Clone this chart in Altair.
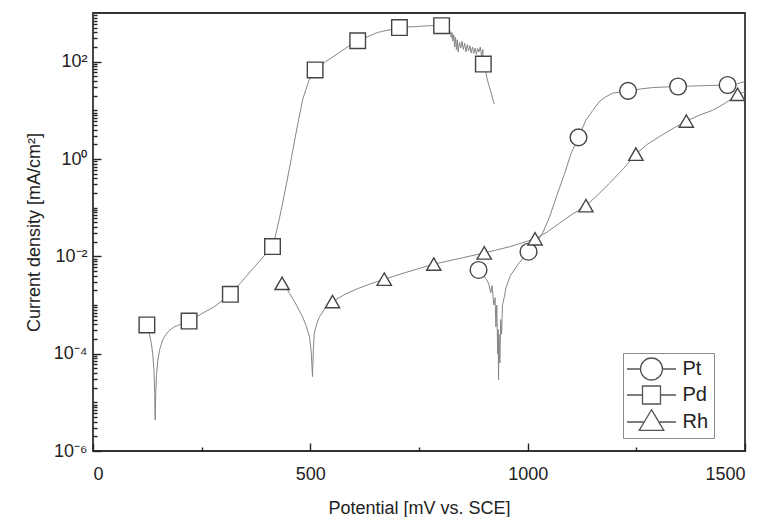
import altair as alt
import pandas as pd

# ---------------- data (potential in mV, log10 of current density in mA/cm^2) -------------
series_order = ["Pt", "Pd", "Rh"]

pd_mv = [124, 128, 133, 137, 140, 142, 143, 144, 146, 149,
         153, 160, 168, 176, 185, 195, 208, 221, 250, 280,
         316, 340, 367, 385, 400, 413, 421, 433, 444, 456,
         467, 482, 497, 511, 535, 559, 585, 609, 655, 705,
         740, 775, 802, 805, 812, 818, 822, 824, 826, 828,
         830, 832, 834, 836, 838, 840, 843, 846, 849, 852,
         855, 858, 861, 864, 867, 870, 873, 876, 879, 882,
         885, 888, 891, 894, 897, 898, 902, 908, 914, 923]
pd_log = [-3.41, -3.52, -3.72, -3.97, -4.3, -4.8, -5.36, -4.9, -4.45, -4.15,
          -3.93, -3.72, -3.6, -3.52, -3.46, -3.42, -3.37, -3.33, -3.18, -3.03,
          -2.78, -2.54, -2.26, -2.08, -1.93, -1.80, -1.53, -1.05, -0.56, 0.0,
          0.53, 1.21, 1.62, 1.83, 2.0, 2.14, 2.3, 2.43, 2.6, 2.70,
          2.72, 2.74, 2.74, 2.73, 2.70, 2.66, 2.62, 2.5, 2.6, 2.42,
          2.55, 2.3, 2.5, 2.25, 2.45, 2.2, 2.4, 2.28, 2.42, 2.25,
          2.38, 2.2, 2.35, 2.22, 2.33, 2.18, 2.3, 2.17, 2.28, 2.15,
          2.27, 2.2, 2.3, 2.12, 2.25, 1.95, 1.85, 1.6, 1.42, 1.13]

pt_mv = [887, 895, 903, 910, 915, 918, 922, 925, 927, 929,
         931, 932, 933, 934, 936, 938, 940, 942, 946, 950,
         960, 975, 990, 1002, 1018, 1034, 1050, 1069, 1085, 1100,
         1117, 1134, 1150, 1165, 1180, 1195, 1215, 1231, 1260, 1290,
         1320, 1346, 1380, 1420, 1460, 1480, 1499]
pt_log = [-2.28, -2.35, -2.45, -2.55, -2.75, -2.6, -3.0, -2.85, -3.45, -3.0,
          -4.0, -3.5, -4.54, -3.6, -4.19, -3.3, -3.6, -3.0, -2.85, -2.65,
          -2.4, -2.2, -2.03, -1.905, -1.75, -1.53, -1.2, -0.70, -0.3, 0.12,
          0.445, 0.80, 1.0, 1.18, 1.28, 1.35, 1.38, 1.40, 1.44, 1.47,
          1.48, 1.49, 1.5, 1.51, 1.52, 1.54, 1.59]

rh_mv = [435, 445, 452, 465, 482, 490, 498, 502, 505, 507,
         509, 515, 521, 536, 551, 580, 610, 640, 670, 720,
         784, 840, 900, 960, 1017, 1045, 1073, 1100, 1134, 1160,
         1188, 1220, 1249, 1275, 1303, 1335, 1365, 1395, 1425, 1455,
         1483, 1500]
rh_log = [-2.555, -2.65, -2.76, -2.95, -3.24, -3.42, -3.65, -3.95, -4.47, -3.9,
          -3.58, -3.38, -3.24, -3.04, -2.93, -2.78, -2.66, -2.56, -2.47, -2.33,
          -2.16, -2.05, -1.93, -1.8, -1.64, -1.5, -1.32, -1.15, -0.96, -0.75,
          -0.50, -0.2, 0.10, 0.3, 0.46, 0.63, 0.78, 0.9, 1.0, 1.15,
          1.33, 1.38]

# marker positions
pt_mk_mv = [887, 1002, 1117, 1231, 1346, 1460]
pt_mk_log = [-2.28, -1.905, 0.445, 1.40, 1.49, 1.52]
pd_mk_mv = [124, 221, 316, 413, 511, 609, 705, 802, 898]
pd_mk_log = [-3.41, -3.33, -2.78, -1.80, 1.83, 2.43, 2.70, 2.74, 1.95]
rh_mk_mv = [435, 551, 670, 784, 900, 1017, 1134, 1249, 1365, 1483]
rh_mk_log = [-2.555, -2.93, -2.47, -2.16, -1.93, -1.64, -0.96, 0.10, 0.78, 1.33]

x_major = [0, 500, 1000, 1500]
x_minor = [250, 750, 1250]
y_major = [1e-6, 1e-4, 1e-2, 1e0, 1e2]
y_major_labels = ["10⁻⁶", "10⁻⁴", "10⁻²", "10⁰", "10²"]
y_minor = [m * 10.0 ** e for e in range(-6, 3) for m in range(2, 10)] + [1e-5, 1e-3, 1e-1, 1e1]

# ---------------- tables ----------------
def frame(name, xs, ls):
    return pd.DataFrame({"series": name, "mV": xs, "j": [10.0 ** v for v in ls],
                         "i": list(range(len(xs)))})

line_df = pd.concat([frame("Pt", pt_mv, pt_log), frame("Pd", pd_mv, pd_log),
                     frame("Rh", rh_mv, rh_log)], ignore_index=True)
mk_df = pd.concat([frame("Pt", pt_mk_mv, pt_mk_log), frame("Pd", pd_mk_mv, pd_mk_log),
                   frame("Rh", rh_mk_mv, rh_mk_log)], ignore_index=True)

W, H = 652, 438
FONT = "Liberation Sans"
xscale = alt.Scale(domain=[0, 1500], nice=False)
yscale = alt.Scale(type="log", domain=[1e-6, 1e3], nice=False)

label_expr = " : ".join(
    f"datum.value < {v * 1.5:g} ? '{t}'" for v, t in zip(y_major, y_major_labels)) + " : ''"

lines = alt.Chart(line_df).mark_line(color="#858585", strokeWidth=1).encode(
    x=alt.X("mV:Q", scale=xscale,
            axis=alt.Axis(orient="bottom", title="Potential [mV vs. SCE]", values=x_major,
                          format="d", ticks=False, domain=False, grid=False, labelPadding=14,
                          titlePadding=16)),
    y=alt.Y("j:Q", scale=yscale,
            axis=alt.Axis(orient="left", title="Current density [mA/cm²]", values=y_major,
                          labelExpr=label_expr, ticks=False, domain=False, grid=False,
                          labelPadding=6, titlePadding=10)),
    detail="series:N",
    order="i:Q",
)

markers = alt.Chart(mk_df).mark_point(filled=True, fill="white", stroke="#444",
                                      strokeWidth=1.4, opacity=1).encode(
    x=alt.X("mV:Q", scale=xscale,
            axis=alt.Axis(orient="top", offset=-H, values=x_major, tickSize=8, labels=False,
                          domain=False, grid=False, title=None)),
    y=alt.Y("j:Q", scale=yscale,
            axis=alt.Axis(orient="right", offset=-W, values=y_major, tickSize=8, labels=False,
                          domain=False, grid=False, title=None)),
    shape=alt.Shape("series:N", scale=alt.Scale(domain=series_order,
                                                range=["circle", "square", "triangle-up"]),
                    legend=None),
    size=alt.Size("series:N", scale=alt.Scale(domain=series_order, range=[280, 205, 400]),
                  legend=None),
)

legend_paths = [
    "M-2.45,0L-1.1,0M1.1,0L2.45,0M-1.1,0A1.1,1.1,0,1,1,1.1,0A1.1,1.1,0,1,1,-1.1,0Z",
    "M-2.45,0L-0.9,0M0.9,0L2.45,0M-0.9,-0.9L0.9,-0.9L0.9,0.9L-0.9,0.9Z",
    "M-2.45,0L-0.72,0M0.72,0L2.45,0M0,-1.23L1.23,0.84L-1.23,0.84Z",
]

legend_host = alt.Chart(mk_df).mark_point(filled=False, color="#555", strokeWidth=1.3,
                                          opacity=0).encode(
    x=alt.X("mV:Q", scale=xscale,
            axis=alt.Axis(orient="top", offset=-H, values=x_minor, tickSize=4, labels=False,
                          domain=False, grid=False, title=None)),
    y=alt.Y("j:Q", scale=yscale,
            axis=alt.Axis(orient="right", offset=-W, values=y_minor, tickSize=4, labels=False,
                          domain=False, grid=False, title=None)),
    shape=alt.Shape("series:N", scale=alt.Scale(domain=series_order, range=legend_paths),
                    legend=alt.Legend(title=None, orient="none", legendX=530, legendY=340,
                                      strokeColor="#8a8a8a", fillColor="white", padding=5,
                                      symbolSize=400, symbolOffset=12.5, labelOffset=20,
                                      symbolStrokeWidth=1.3, symbolOpacity=1,
                                      labelFontSize=20, labelFont=FONT, labelColor="#222",
                                      rowPadding=0,
                                      labelExpr="datum.label + '\u00a0\u00a0\u00a0\u00a0\u00a0'")),
)

chart = alt.layer(lines, markers, legend_host).resolve_scale(
    shape="independent", size="independent"
).resolve_axis(
    x="independent", y="independent"
).properties(
    width=W, height=H, padding={"left": 17, "top": 5, "right": 5, "bottom": 0}
).configure_view(
    stroke="#333", strokeWidth=1.8
).configure_axis(
    labelFont=FONT, titleFont=FONT, labelFontSize=18, titleFontSize=18,
    labelColor="#222", titleColor="#222", titleFontWeight="normal",
    tickColor="#222", tickWidth=1.4
)

chart.save("out.html", embed_options={"renderer": "svg", "actions": False})
